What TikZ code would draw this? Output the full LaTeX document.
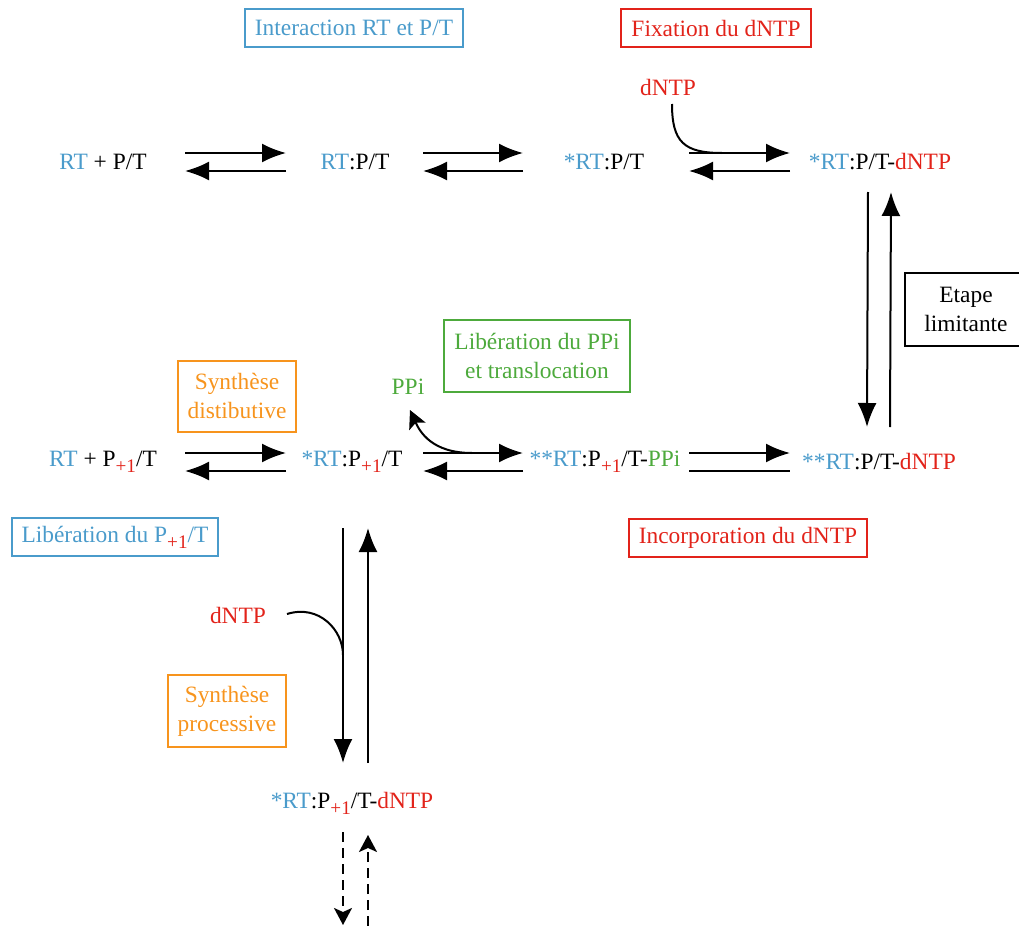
\documentclass[tikz,border=0pt]{standalone}
\usepackage{fontspec}
\setmainfont{Liberation Serif}
\usetikzlibrary{arrows.meta}
\definecolor{rtblue}{HTML}{4A9BCB}
\definecolor{rtred}{HTML}{E2231A}
\definecolor{rtorange}{HTML}{F7941D}
\definecolor{rtgreen}{HTML}{4DAA3C}
\newcommand{\rtc}{\textcolor{rtblue}{RT}}
\newcommand{\stc}{\textcolor{rtblue}{*}}
\newcommand{\pun}{P\raisebox{-3pt}{\fontsize{9.6}{10}\selectfont\textcolor{rtred}{+1}}}
\newcommand{\dntp}{\textcolor{rtred}{dNTP}}
\begin{document}
\begin{tikzpicture}[x=0.5pt,y=-0.5pt,
  every node/.style={font=\fontsize{11.7}{14.5}\selectfont,inner sep=0pt},
  fwd/.style={line width=1pt,-{Latex[length=12pt,width=9.5pt]}},
  dfwd/.style={line width=1pt,dash pattern=on 5pt off 3pt,-{Stealth[length=8.5pt,width=9pt,inset=2pt]}},
  lbox/.style={draw,line width=1pt,align=center,inner xsep=5pt,minimum height=19pt}]
\useasboundingbox (0,0) rectangle (1019,926);
% species
\node (n1) at (103,162) {\rtc{} + P/T};
\node (n2) at (355,162) {\rtc:P/T};
\node (n3) at (604,162) {\stc\rtc:P/T};
\node (n4) at (880,162) {\stc\rtc:P/T-\dntp};
\node (m1) at (103,462) {\rtc{} + \pun/T};
\node (m2) at (352,462) {\stc\rtc:\pun/T};
\node (m3) at (605,462) {\stc\stc\rtc:\pun/T-\textcolor{rtgreen}{PPi}};
\node (m4) at (879,462) {\stc\stc\rtc:P/T-\dntp};
\node (b1) at (352,803) {\stc\rtc:\pun/T-\dntp};
\node[text=rtred] (dntpa) at (668,87) {dNTP};
\node[text=rtred] (dntpb) at (238,615) {dNTP};
\node[text=rtgreen] (ppi) at (408,387) {PPi};
% labels
\node[lbox,rtblue] (inter) at (354,28) {Interaction RT et P/T};
\node[lbox,rtred] (fix) at (716,28) {Fixation du dNTP};
\node[lbox,rtorange,minimum height=35.5pt] (dist) at (237,396) {Synthèse\\distibutive};
\node[lbox,rtgreen,minimum height=36pt] (lib) at (537,356) {Libération du PPi\\et translocation};
\node[lbox,minimum height=36.5pt,minimum width=61pt,inner xsep=0pt] (etape) at (966,309) {Etape\\limitante};
\node[lbox,rtblue] (libp) at (115,537) {Libération du \pun/T};
\node[lbox,rtred] (inc) at (748,538) {Incorporation du dNTP};
\node[lbox,rtorange,minimum height=36pt] (proc) at (227,711) {Synthèse\\processive};
% top row
\draw[fwd] ([shift={(82,-9)}]n1.center) -- ([shift={(-69,-9)}]n2.center);
\draw[fwd] ([shift={(-69,9)}]n2.center) -- ([shift={(82,9)}]n1.center);
\draw[fwd] ([shift={(68,-9)}]n2.center) -- ([shift={(-81,-9)}]n3.center);
\draw[fwd] ([shift={(-81,9)}]n3.center) -- ([shift={(68,9)}]n2.center);
\draw[fwd] ([shift={(85,-9)}]n3.center) -- ([shift={(-90,-9)}]n4.center);
\draw[fwd] ([shift={(-90,9)}]n4.center) -- ([shift={(85,9)}]n3.center);
\draw[line width=1pt] ([shift={(4,17)}]dntpa.center) .. controls +(0,38) and +(-38,0) .. ([shift={(-158,-9)}]n4.center);
% right column
\draw[fwd] ([shift={(-12,30)}]n4.center) -- ([shift={(-12,-35)}]m4.center);
\draw[fwd] ([shift={(11,-35)}]m4.center) -- ([shift={(11,30)}]n4.center);
% middle row
\draw[fwd] ([shift={(82,-9)}]m1.center) -- ([shift={(-66,-9)}]m2.center);
\draw[fwd] ([shift={(-66,9)}]m2.center) -- ([shift={(82,9)}]m1.center);
\draw[fwd] ([shift={(71,-9)}]m2.center) -- ([shift={(-82,-9)}]m3.center);
\draw[fwd] ([shift={(-82,9)}]m3.center) -- ([shift={(71,9)}]m2.center);
\draw[fwd] ([shift={(84,-9)}]m3.center) -- ([shift={(-89,-9)}]m4.center);
\draw[line width=1pt] ([shift={(84,9)}]m3.center) -- ([shift={(-89,9)}]m4.center);
\draw[line width=1pt,-{Stealth[length=9pt,width=9pt,inset=2pt]}] ([shift={(-133,-9)}]m3.center) .. controls +(-40,0) and +(10,22) .. ([shift={(2,23)}]ppi.center);
% bottom column
\draw[fwd] ([shift={(-9,66)}]m2.center) -- ([shift={(-9,-40)}]b1.center);
\draw[fwd] ([shift={(16,-40)}]b1.center) -- ([shift={(16,66)}]m2.center);
\draw[line width=1pt] ([shift={(49,-1)}]dntpb.center) .. controls +(32,-10) and +(0,-25) .. ([shift={(-9,193)}]m2.center);
\coordinate (dend) at (343,925);
\coordinate (uend) at (368,926);
\draw[dfwd] ([shift={(-9,29)}]b1.center) -- (dend);
\draw[dfwd] (uend) -- ([shift={(16,32)}]b1.center);
\end{tikzpicture}
\end{document}
